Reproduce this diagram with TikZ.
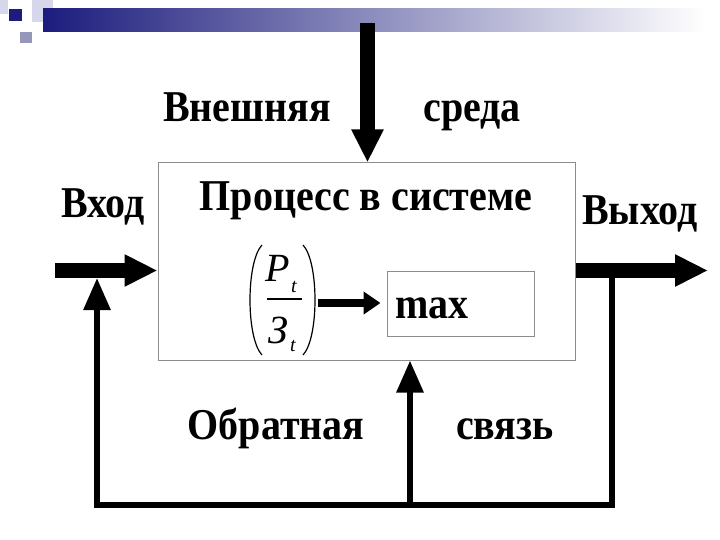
\documentclass[tikz,border=0pt]{standalone}
\usepackage{fontspec}
\usepackage{graphicx}
\setmainfont{Liberation Serif}
\usetikzlibrary{arrows.meta}
\definecolor{navy}{RGB}{28,28,125}
\definecolor{midlav}{RGB}{150,150,185}
\definecolor{palelav}{RGB}{215,215,235}
\definecolor{boxgray}{RGB}{140,140,140}
\newcommand\tallbox[1]{\scalebox{1}[1.1]{#1}}
\begin{document}
\begin{tikzpicture}[x=1pt,y=-1pt,
  lbl/.style={font=\bfseries\fontsize{40}{44}\selectfont, inner sep=0pt, anchor=base},
  itl/.style={font=\itshape\fontsize{40}{44}\selectfont, inner sep=0pt, anchor=base},
  sub/.style={font=\itshape\fontsize{20}{22}\selectfont, inner sep=0pt, anchor=base west},
  frame/.style={draw=boxgray, line width=1pt, inner sep=0pt},
  paren/.style={line width=1.2pt},
  bigarrow/.style={line width=15pt, -{Triangle[length=33pt,width=30pt]}},
  fbarrow/.style={line width=6pt, line join=miter, -{Triangle[length=32pt,width=26pt]}},
  smallarrow/.style={line width=8pt, -{Triangle[length=17pt,width=22pt]}}]
\useasboundingbox (0,0) rectangle (720,540);
% decoration at top
\fill[palelav] (0,0) rectangle (8,14);
\fill[palelav] (32,0) rectangle (53,22);
\fill[midlav] (20,32) rectangle (32,43);
\shade[left color=navy, middle color=midlav!80, right color=white] (43,9) rectangle (705,32);
\fill[navy] (9,9) rectangle (22,21);
% main box
\node[frame, minimum width=417pt, minimum height=197pt] (box) at (366.5,261.5) {};
\node[lbl] (title) at (366,211) {\tallbox{Процесс в системе}};
% fraction
\node[itl] (num) at (278,281) {P};
\node[sub] (numsub) at (291,292) {t};
\node[itl] (den) at (278,343) {З};
\node[sub] (densub) at (290,351) {t};
\draw[line width=1.2pt] (267,299) coordinate (barL) -- (302,299) coordinate (barR);
\draw[paren] (262,245) .. controls (246,262) and (246,338) .. (262,355);
\draw[paren] (303,245) .. controls (319,262) and (319,338) .. (303,355);
\coordinate (fracE) at (318,303);
% max box
\node[frame, minimum width=147pt, minimum height=65pt] (maxbox) at (460.5,303.5) {};
\node[lbl, anchor=base west] (maxtxt) at (395,318) {\tallbox{max}};
\draw[smallarrow, shorten >=6pt] (fracE) -- (maxbox.west |- fracE);
% environment
\node[lbl] (ext1) at (247,122) {\tallbox{Внешняя}};
\node[lbl] (ext2) at (472,122) {\tallbox{среда}};
\coordinate (topstart) at (367.5,23);
\draw[bigarrow] (topstart) -- (topstart |- box.north);
% input and output
\node[lbl] (inlbl) at (103,218) {\tallbox{Вход}};
\node[lbl] (outlbl) at (640,225) {\tallbox{Выход}};
\coordinate (inL) at (55,270.5);
\draw[bigarrow] (inL) -- (box.west |- inL);
\coordinate (outR) at (708,270.5);
\draw[bigarrow] (box.east |- outR) -- (outR);
% feedback
\coordinate (fbR) at (612,278);
\coordinate (fbBR) at (612,505);
\coordinate (fbBL) at (97,505);
\coordinate (fbL) at (97,278);
\coordinate (fbM) at (410,505);
\draw[fbarrow] (fbR) -- (fbBR) -- (fbBL) -- (fbL);
\draw[fbarrow] (fbM) -- (fbM |- box.south);
\node[lbl] (fb1) at (276,439) {\tallbox{Обратная}};
\node[lbl] (fb2) at (505,439) {\tallbox{связь}};
\end{tikzpicture}
\end{document}
